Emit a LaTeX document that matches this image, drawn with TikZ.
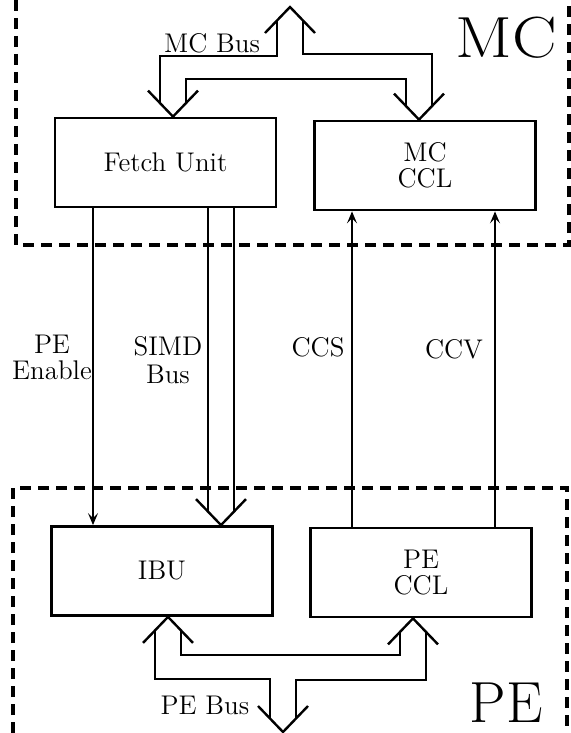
\documentclass[tikz,border=0pt]{standalone}
\usepackage{amsmath}
\usepackage{xcolor}
\usepackage{graphicx}
\usepackage{tikz}
\usetikzlibrary{arrows.meta,calc}

\begin{document}
\begin{tikzpicture}[x=0.5pt,y=-0.5pt,inner sep=0pt,
  unitbox/.style={minimum height=44.5pt, minimum width=110.5pt, draw, line width=1.4pt, align=center, font=\fontsize{13.5}{13}\selectfont, shape=rectangle},
  sigtext/.style={align=center, font=\fontsize{13.5}{13}\selectfont},
  bigtext/.style={font=\fontsize{29}{31}\selectfont},
  wire/.style={line width=1.1pt, draw, -{Stealth[length=6pt,width=5pt,inset=2.5pt]}},
  busline/.style={line width=1.2pt, draw},
  region/.style={line width=1.6pt, draw, dash pattern=on 5.5pt off 3.5pt},
  vdown/.pic={\path [busline] (-25,-26) -- (0,0) -- (25,-26);},
  vup/.pic={\path [busline] (-25,26) -- (0,0) -- (25,26);}]
\path [use as bounding box, fill=white] (0,0) rectangle (571,733);

\path [region] (16,0) -- (16,245) -- (569,245) -- (569,0);
\path [region] (13,733) -- (13,488) -- (567,488) -- (567,733);

\node (fetch) [unitbox, at={(165.5,162.5)}] {Fetch Unit};
\node (mcccl) [unitbox, at={(425,165.5)}] {MC\\CCL};
\node (ibu) [unitbox, at={(162,571)}] {IBU};
\node (peccl) [unitbox, at={(421,572.5)}] {PE\\CCL};

\node (mcbuslbl) [sigtext, at={(212,43)}] {MC Bus};
\node (pebuslbl) [sigtext, at={(205,705)}] {PE Bus};
\node (mclbl) [bigtext, at={(506,38)}] {\scalebox{1.15}[1]{MC}};
\node (pelbl) [bigtext, at={(506,703)}] {PE};
\node (enlbl) [sigtext, at={(52,357)}] {PE\\Enable};
\node (simdlbl) [sigtext, at={(168,360)}] {SIMD\\[1pt]Bus};
\node (ccslbl) [sigtext, at={(318,347)}] {CCS};
\node (ccvlbl) [sigtext, at={(454,349)}] {CCV};

\coordinate (enx) at (93,0);
\coordinate (ccsx) at (352,0);
\coordinate (ccvx) at (495,0);
\coordinate (mcport) at (290,7);
\coordinate (peport) at (283,732);
\coordinate (fetchin) at (fetch.north -| 173,0);
\coordinate (mcin) at (mcccl.north -| 419,0);
\coordinate (simdin) at (ibu.north -| 221,0);
\coordinate (ibuout) at (ibu.south -| 168,0);
\coordinate (pecclout) at (peccl.south -| 413,0);

\path [wire] (fetch.south -| enx) -- (ibu.north -| enx);
\path [wire] (peccl.north -| ccsx) -- (mcccl.south -| ccsx);
\path [wire] (peccl.north -| ccvx) -- (mcccl.south -| ccvx);

\path [busline] (fetch.south -| simdin) ++(-13,0) -- ($(simdin)+(-13,-13.5)$);
\path [busline] (fetch.south -| simdin) ++(13,0) -- ($(simdin)+(13,-13.5)$);
\pic at (simdin) {vdown};

\path [busline] ($(fetchin)+(-13,-13.5)$) |- ($(mcport)+(-13,49)$) -- ($(mcport)+(-13,13.5)$);
\path [busline] ($(mcport)+(13,13.5)$) |- ($(mcin)+(13,-65.5)$) -- ($(mcin)+(13,-13.5)$);
\path [busline] ($(fetchin)+(13,-13.5)$) |- ($(mcin)+(-13,-40.5)$) -- ($(mcin)+(-13,-13.5)$);
\pic at (mcport) {vup};
\pic at (fetchin) {vdown};
\pic at (mcin) {vdown};

\path [busline] ($(ibuout)+(-13,13.5)$) |- ($(peport)+(-13,-53)$) -- ($(peport)+(-13,-13.5)$);
\path [busline] ($(peport)+(13,-13.5)$) |- ($(pecclout)+(13,61.5)$) -- ($(pecclout)+(13,13.5)$);
\path [busline] ($(ibuout)+(13,13.5)$) |- ($(pecclout)+(-13,36.5)$) -- ($(pecclout)+(-13,13.5)$);
\pic at (ibuout) {vup};
\pic at (pecclout) {vup};
\pic at (peport) {vdown};
\end{tikzpicture}
\end{document}
